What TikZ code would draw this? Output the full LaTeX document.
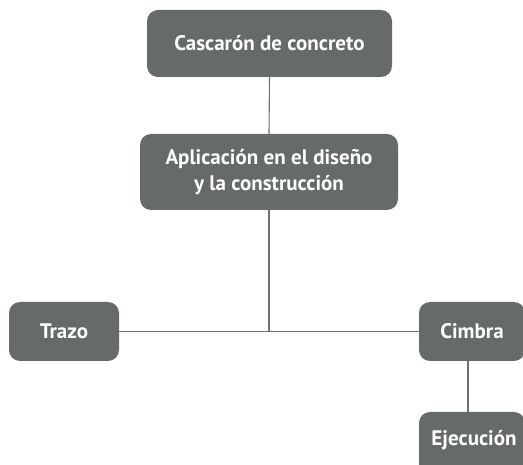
\documentclass[tikz,border=0pt]{standalone}
\usepackage{fontspec}
\setmainfont{PT Sans}
\definecolor{boxgray}{HTML}{666A6B}
\definecolor{linegray}{HTML}{707070}
\begin{document}
\begin{tikzpicture}[x=1pt,y=-1pt,
  boxfont/.style={font=\fontsize{21}{26}\selectfont\bfseries},
  box/.style={draw=none,fill=boxgray,rounded corners=11pt,text=white,
    boxfont,align=center,inner sep=0pt},
  conn/.style={draw=linegray,line width=1.1pt}]
\useasboundingbox (0,0) rectangle (523,465);
\clip (0,0) rectangle (523,465);
\node[box,minimum width=245pt,minimum height=67pt] (casc) at (269.5,43.5) {Cascarón de concreto};
\node[box,minimum width=258pt,minimum height=76pt] (apli) at (269,172) {Aplicación en el diseño\\y la construcción};
\node[box,minimum width=110pt,minimum height=59pt] (trazo) at (64,331.5) {Trazo};
\node[box,minimum width=106pt,minimum height=59pt] (cimbra) at (472,331.5) {Cimbra};
\node[box,minimum width=106pt,minimum height=63pt] (ejec) at (472,443.5) {};
\node[text=white,boxfont,inner sep=0pt] (ejectxt) at (474,440) {Ejecución};
\coordinate (junc) at (apli.south |- trazo.east);
\coordinate (cv) at (468,0);
\draw[conn] (casc.south) -- (apli.north);
\draw[conn] (apli.south) -- (junc);
\draw[conn] (trazo.east) -- (cimbra.west);
\draw[conn] (cimbra.south -| cv) -- (ejec.north -| cv);
\end{tikzpicture}
\end{document}
